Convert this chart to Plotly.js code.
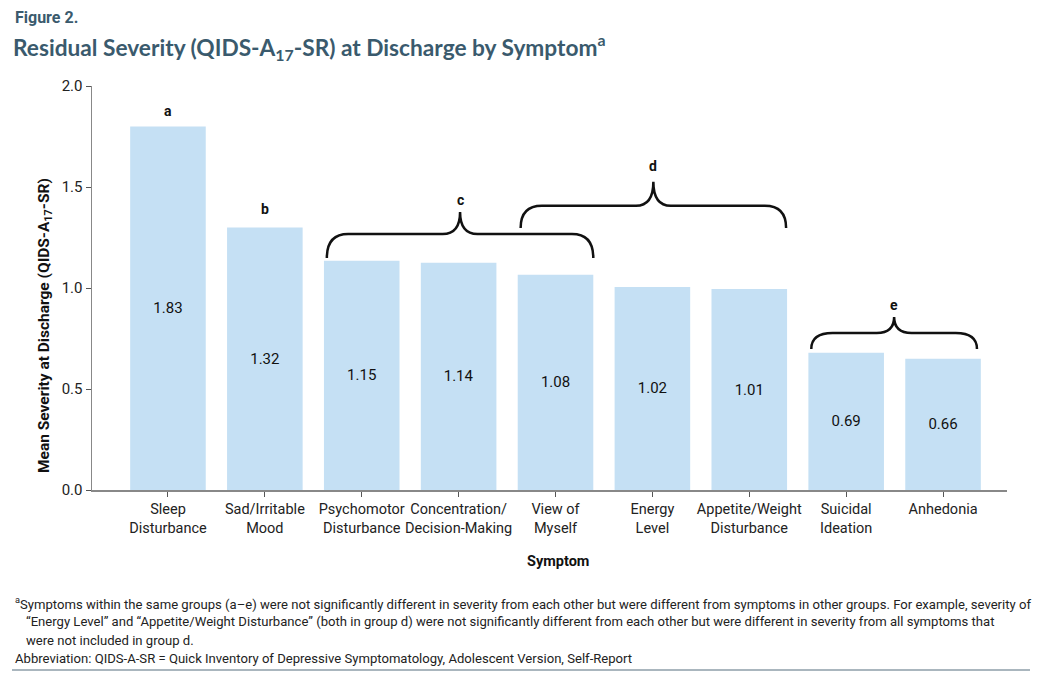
<!DOCTYPE html>
<html>
<head>
<meta charset="utf-8">
<script src="https://cdn.plot.ly/plotly-3.0.1.min.js"></script>
<style>
html,body{margin:0;padding:0;background:#fff;}
#chart{width:1042px;height:684px;}
</style>
</head>
<body>
<div id="chart"></div>
<script>
// ---- data ----
const categories = ["Sleep<br>Disturbance","Sad/Irritable<br>Mood","Psychomotor<br>Disturbance","Concentration/<br>Decision-Making","View of<br>Myself","Energy<br>Level","Appetite/Weight<br>Disturbance","Suicidal<br>Ideation","Anhedonia"];
const barHeights = [1.80, 1.30, 1.135, 1.125, 1.065, 1.005, 0.995, 0.68, 0.65];
const valueLabels = ["1.83","1.32","1.15","1.14","1.08","1.02","1.01","0.69","0.66"];
const yTicks = [0, 0.5, 1.0, 1.5, 2.0];
const yTickText = ["0.0","0.5","1.0","1.5","2.0"];
// single group letters: [letter, category index, y]
const singleGroups = [["a",0,1.876],["b",1,1.39]];
// braces: [letter, x0, x1, yEnd, yLine, yTip, yLabel]
const braceGroups = [
  ["c",1.64,4.39,1.149,1.267,1.376,1.436],
  ["d",3.64,6.38,1.297,1.407,1.526,1.604],
  ["e",6.64,8.35,0.698,0.777,0.856,0.916]
];

const xIdx = categories.map((_, i) => i);
const FONT = "'Roboto', 'Liberation Sans', sans-serif";

// px helpers (plot area: left 92, right 1007, top 86, bottom 490)
const L=92, R=1007, T=86, B=490;
const px2x = p => (p - L)/(R - L);
const px2y = p => (B - p)/(B - T);

const trace = {
  type: 'bar',
  x: xIdx,
  y: barHeights,
  text: valueLabels,
  textposition: 'inside',
  insidetextanchor: 'middle',
  textangle: 0,
  textfont: {family: FONT, size: 15, color: '#111'},
  marker: {color: '#c5e0f4'},
  width: 0.78,
  hoverinfo: 'none'
};

const shapes = [];
const annotations = [];

singleGroups.forEach(g => {
  annotations.push({x: g[1], y: g[2], xref:'x', yref:'y', xanchor:'center', yanchor:'middle',
    text: '<b>'+g[0]+'</b>', showarrow:false, font:{family: FONT, size: 14, color:'#111'}});
});

braceGroups.forEach(g => {
  const [lab,x0,x1,ye,yl,yt,ylab] = g;
  const xm = (x0+x1)/2, rc = 0.22, rt = 0.18;
  const path = `M ${x0},${ye} Q ${x0},${yl} ${x0+rc},${yl} L ${xm-rt},${yl} Q ${xm},${yl} ${xm},${yt} ` +
               `Q ${xm},${yl} ${xm+rt},${yl} L ${x1-rc},${yl} Q ${x1},${yl} ${x1},${ye}`;
  shapes.push({type:'path', xref:'x', yref:'y', path: path, line:{color:'#111', width:2.5}});
  annotations.push({x: xm, y: ylab, xref:'x', yref:'y', xanchor:'center', yanchor:'middle',
    text:'<b>'+lab+'</b>', showarrow:false, font:{family: FONT, size: 14, color:'#111'}});
});

// axis titles
annotations.push({xref:'paper', yref:'paper', x: px2x(558), y: px2y(561), xanchor:'center', yanchor:'middle',
  text:'<b>Symptom</b>', showarrow:false, font:{family: FONT, size: 14.5, color:'#111'}});
annotations.push({xref:'paper', yref:'paper', x: px2x(45), y: px2y(326), xanchor:'center', yanchor:'middle', textangle:-90,
  text:'<b>Mean Severity at Discharge (QIDS-A<sub>17</sub>-SR)</b>', showarrow:false,
  font:{family: FONT, size: 15.5, color:'#111'}});

// Figure label
annotations.push({xref:'paper', yref:'paper', x: px2x(13), y: px2y(17), xanchor:'left', yanchor:'middle',
  text:'<b>Figure 2.</b>', showarrow:false, font:{family: FONT, size: 16, color:'#3a5a6d'}});

// footnotes
const footLines = [
  [13, 603, "<sup>a</sup>Symptoms within the same groups (a\u2013e) were not significantly different in severity from each other but were different from symptoms in other groups. For example, severity of"],
  [24, 621, "\u201cEnergy Level\u201d and \u201cAppetite/Weight Disturbance\u201d (both in group d) were not significantly different from each other but were different in severity from all symptoms that"],
  [24, 640, "were not included in group d."],
  [13, 658, "Abbreviation: QIDS-A-SR = Quick Inventory of Depressive Symptomatology, Adolescent Version, Self-Report"]
];
footLines.forEach(f => {
  annotations.push({xref:'paper', yref:'paper', x: px2x(f[0]), y: px2y(f[1]), xanchor:'left', yanchor:'middle',
    text: f[2], showarrow:false, align:'left', font:{family: FONT, size: 13.1, color:'#222'}});
});

shapes.push({type:'line', xref:'paper', yref:'paper', x0: px2x(12), x1: px2x(1030), y0: px2y(670), y1: px2y(670),
  line:{color:'#8e9ea8', width:1.5}});

const layout = {
  width: 1042, height: 684,
  margin: {l: L, r: 1042-R, t: T, b: 684-B, pad: 0},
  paper_bgcolor: '#fff', plot_bgcolor: '#fff',
  showlegend: false,
  title: {text: '<b>Residual Severity (QIDS-A<sub>17</sub>-SR) at Discharge by Symptom<sup>a</sup></b>',
          x: 13/1042, xref: 'container', xanchor: 'left', y: 1 - 48/684, yref: 'container', yanchor: 'middle',
          font: {family: "'Lato', 'Roboto', sans-serif", size: 22.7, color: '#3a5a6d'}},
  xaxis: {
    range: [-0.784, 8.66], tickvals: xIdx, ticktext: categories, tickangle: 0,
    showline: true, linecolor: '#888', linewidth: 1.5,
    ticks: 'outside', ticklen: 5, tickcolor: '#555', tickwidth: 1,
    showgrid: false, zeroline: false, fixedrange: true,
    tickfont: {family: FONT, size: 14.5, color: '#222'}
  },
  yaxis: {
    range: [0, 2.0], tickvals: yTicks, ticktext: yTickText,
    showline: true, linecolor: '#888', linewidth: 1.5,
    ticks: 'outside', ticklen: 5, tickcolor: '#555', tickwidth: 1,
    showgrid: false, zeroline: false, fixedrange: true,
    tickfont: {family: FONT, size: 15, color: '#222'}
  },
  shapes: shapes,
  annotations: annotations
};

Plotly.newPlot('chart', [trace], layout, {displayModeBar: false, staticPlot: true});
</script>
</body>
</html>
